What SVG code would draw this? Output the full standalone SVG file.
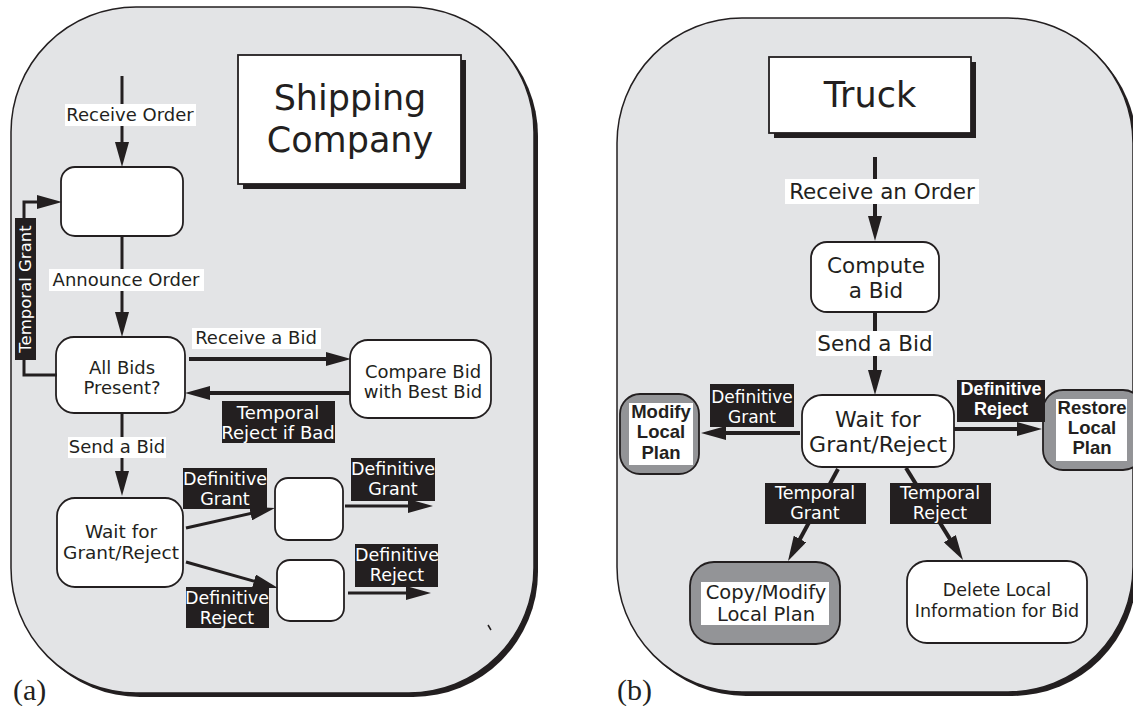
<svg xmlns="http://www.w3.org/2000/svg" width="1133" height="706" viewBox="0 0 1133 706">
<defs>
<marker id="arr" viewBox="0 0 25 14" markerWidth="25" markerHeight="14" refX="11" refY="7" orient="auto" markerUnits="userSpaceOnUse">
<path d="M0,0 L25,7 L0,14 z" fill="#231f20"/>
</marker>
</defs>
<style>
.panel{fill:#e3e4e6;stroke:#231f20;stroke-width:1.5}
.shadow{fill:#231f20}
.node{fill:#fff;stroke:#231f20;stroke-width:1.8}
.grey{fill:#939497;stroke:#231f20;stroke-width:1.8}
.inner{fill:#fff}
.title{font-family:"DejaVu Sans",sans-serif;font-size:35px;fill:#231f20;text-anchor:middle}
.ta{font-family:"DejaVu Sans",sans-serif;font-size:18px;fill:#231f20;text-anchor:middle}
.tb{font-family:"DejaVu Sans",sans-serif;font-size:21.5px;fill:#231f20;text-anchor:middle}
.bold{font-family:"Liberation Sans",Arial,sans-serif;font-weight:bold;font-size:18.5px;fill:#231f20;text-anchor:middle}
.wl{fill:#fff}
.bl{fill:#231f20}
.wt{font-family:"DejaVu Sans",sans-serif;font-size:17.5px;fill:#fff;text-anchor:middle}
.wtb{font-family:"Liberation Sans",Arial,sans-serif;font-weight:bold;font-size:18px;fill:#fff;text-anchor:middle}
.cap{font-family:"Liberation Serif","Times New Roman",serif;font-size:30px;fill:#231f20}
.c{fill:none;stroke:#231f20;stroke-width:3;marker-end:url(#arr)}
.c4{fill:none;stroke:#231f20;stroke-width:4;marker-end:url(#arr)}
</style>

<g id="panel-a">
<rect class="shadow" x="15" y="11" width="523" height="686" rx="125"/>
<rect class="panel" x="11" y="7" width="523" height="686" rx="125"/>
<line x1="488" y1="625" x2="491" y2="630" stroke="#231f20" stroke-width="1.5"/>
<text class="cap" x="13" y="700">(a)</text>
</g>

<g id="panel-b">
<rect class="shadow" x="621" y="22" width="516" height="674" rx="125"/>
<rect class="panel" x="617" y="18" width="516" height="674" rx="125"/>
<text class="cap" x="617" y="700">(b)</text>
</g>

<g id="title-shipping">
<rect class="shadow" x="243" y="60" width="223" height="129"/>
<rect class="node" x="238" y="55" width="223" height="129" stroke-width="1.5"/>
<text class="title" x="350" y="110">Shipping</text>
<text class="title" x="350" y="152">Company</text>
</g>

<g id="title-truck">
<rect class="shadow" x="774" y="62" width="202" height="76"/>
<rect class="node" x="769" y="57" width="202" height="76" stroke-width="1.5"/>
<text class="title" x="870" y="107">Truck</text>
</g>

<g id="a-start">
<rect class="node" x="61" y="167" width="122" height="69" rx="14"/>
</g>
<g id="a-allbids">
<rect class="node" x="56" y="337" width="129" height="76" rx="18"/>
<text class="ta" x="122" y="374">All Bids</text>
<text class="ta" x="122" y="394">Present?</text>
</g>
<g id="a-compare">
<rect class="node" x="350" y="340" width="141" height="78" rx="18"/>
<text class="ta" x="423" y="378">Compare Bid</text>
<text class="ta" x="423" y="398">with Best Bid</text>
</g>
<g id="a-wait">
<rect class="node" x="57" y="498" width="126" height="89" rx="18"/>
<text class="ta" x="121" y="538" style="font-size:18.5px">Wait for</text>
<text class="ta" x="121" y="559" style="font-size:18.5px">Grant/Reject</text>
</g>
<g id="a-grant">
<rect class="node" x="275" y="478" width="68" height="62" rx="13"/>
</g>
<g id="a-reject">
<rect class="node" x="277" y="560" width="67" height="61" rx="13"/>
</g>

<g id="b-compute">
<rect class="node" x="811" y="242" width="128" height="70" rx="16"/>
<text class="tb" x="876" y="273">Compute</text>
<text class="tb" x="876" y="298">a Bid</text>
</g>
<g id="b-wait">
<rect class="node" x="802" y="395" width="152" height="72" rx="20"/>
<text class="tb" x="878" y="427" style="font-size:22px">Wait for</text>
<text class="tb" x="878" y="452" style="font-size:22px">Grant/Reject</text>
</g>
<g id="b-modify">
<rect class="grey" x="620" y="394" width="79" height="80" rx="20"/>
<rect class="inner" x="629" y="403" width="64" height="62"/>
<text class="bold" x="661" y="418">Modify</text>
<text class="bold" x="661" y="438">Local</text>
<text class="bold" x="661" y="459">Plan</text>
</g>
<g id="b-restore">
<rect class="grey" x="1043" y="390" width="100" height="80" rx="20"/>
<rect class="inner" x="1056" y="399" width="71" height="62"/>
<text class="bold" x="1092" y="414">Restore</text>
<text class="bold" x="1092" y="434">Local</text>
<text class="bold" x="1092" y="454">Plan</text>
</g>
<g id="b-copy">
<rect class="grey" x="690" y="562" width="150" height="82" rx="24"/>
<rect class="inner" x="701" y="582" width="128" height="43"/>
<text class="tb" x="766" y="599" style="font-size:19.5px">Copy/Modify</text>
<text class="tb" x="766" y="621" style="font-size:19.5px">Local Plan</text>
</g>
<g id="b-delete">
<rect class="node" x="907" y="561" width="180" height="82" rx="20"/>
<text class="tb" x="997" y="596" style="font-size:17.5px">Delete Local</text>
<text class="tb" x="997" y="617" style="font-size:17.5px">Information for Bid</text>
</g>

<g id="connectors">
<path class="c" d="M122,76 L122,153"/>
<path class="c" d="M122,236 L122,323"/>
<path class="c" d="M122,413 L122,482"/>
<path class="c4" d="M189,359 L337,359"/>
<path class="c4" d="M350,393 L199,393"/>
<path class="c" d="M57,375 L24,375 L24,202 L48,202"/>
<path class="c" d="M186,528 L261.3,511.1"/>
<path class="c" d="M186,562 L264.5,584.2"/>
<path class="c" d="M345,506 L419,506"/>
<path class="c" d="M348,593 L417,593"/>

<path class="c4" d="M875,157 L875,227"/>
<path class="c4" d="M875,312 L875,381"/>
<path class="c4" d="M800,433 L715,433"/>
<path class="c4" d="M954,429 L1028,429"/>
<path class="c4" d="M838,469 L794.7,548.7"/>
<path class="c4" d="M906,468 L955.6,548.1"/>

<g id="labels-a">
<rect class="wl" x="65" y="104" width="131" height="22"/>
<text class="ta" x="130" y="121">Receive Order</text>
<rect class="wl" x="49" y="269" width="155" height="22"/>
<text class="ta" x="126" y="286">Announce Order</text>
<rect class="wl" x="192" y="328" width="129" height="21"/>
<text class="ta" x="256" y="344">Receive a Bid</text>
<rect class="wl" x="68" y="437" width="98" height="21"/>
<text class="ta" x="117" y="453">Send a Bid</text>
<rect class="bl" x="15" y="218" width="21" height="142"/>
<text class="wt" style="font-size:16.5px" transform="translate(31,289) rotate(-90)">Temporal Grant</text>
<rect class="bl" x="222" y="401" width="113" height="42"/>
<text class="wt" x="278" y="419" style="font-size:18px">Temporal</text>
<text class="wt" x="278" y="439" style="font-size:18px">Reject if Bad</text>
<rect class="bl" x="183" y="468" width="84" height="41"/>
<text class="wt" x="225" y="485">Definitive</text>
<text class="wt" x="225" y="505">Grant</text>
<rect class="bl" x="351" y="458" width="84" height="43"/>
<text class="wt" x="393" y="475">Definitive</text>
<text class="wt" x="393" y="495">Grant</text>
<rect class="bl" x="186" y="587" width="83" height="41"/>
<text class="wt" x="227" y="604">Definitive</text>
<text class="wt" x="227" y="624">Reject</text>
<rect class="bl" x="355" y="544" width="83" height="43"/>
<text class="wt" x="397" y="561">Definitive</text>
<text class="wt" x="397" y="581">Reject</text>
</g>

<g id="labels-b">
<rect class="wl" x="785" y="179" width="194" height="25"/>
<text class="tb" x="882" y="199">Receive an Order</text>
<rect class="wl" x="816" y="331" width="117" height="25"/>
<text class="tb" x="875" y="351">Send a Bid</text>
<rect class="bl" x="710" y="384" width="84" height="43"/>
<text class="wt" x="752" y="403" style="font-size:17px">Definitive</text>
<text class="wt" x="752" y="423" style="font-size:17px">Grant</text>
<rect class="bl" x="957" y="380" width="88" height="42"/>
<text class="wtb" x="1001" y="395">Definitive</text>
<text class="wtb" x="1001" y="415">Reject</text>
<rect class="bl" x="765" y="483" width="101" height="41"/>
<text class="wt" x="815" y="499">Temporal</text>
<text class="wt" x="815" y="519">Grant</text>
<rect class="bl" x="890" y="483" width="101" height="41"/>
<text class="wt" x="940" y="499">Temporal</text>
<text class="wt" x="940" y="519">Reject</text>
</g>
</g>
</svg>
